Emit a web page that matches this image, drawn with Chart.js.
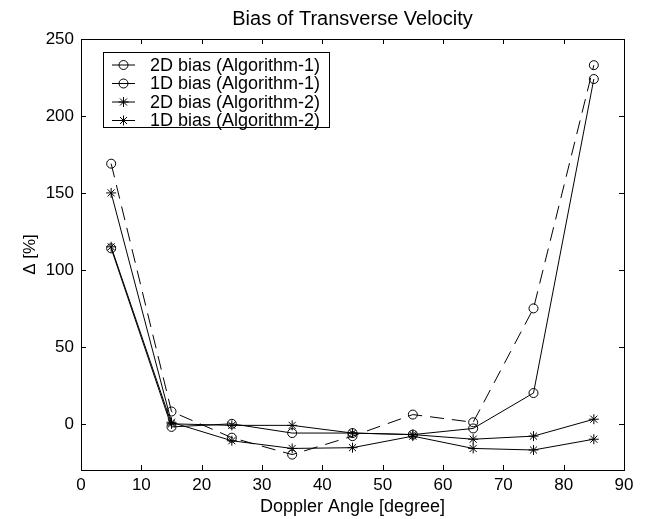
<!DOCTYPE html>
<html>
<head>
<meta charset="utf-8">
<script src="https://cdn.jsdelivr.net/npm/chart.js@4/dist/chart.umd.min.js"></script>
<style>
  html, body { margin: 0; padding: 0; background: #fff; }
  #wrap { width: 647px; height: 519px; }
</style>
</head>
<body>
<div id="wrap"><canvas id="c" width="647" height="519"></canvas></div>
<script>
// ---- data ----
const dopplerAngles = [5, 15, 25, 35, 45, 55, 65, 75, 85];
const bias2DAlg1 = [114, -2, 0, -6, -6, -7, -3, 20, 224];
const bias1DAlg1 = [169, 8, -9, -20, -8, 6, 1, 75, 233];
const bias2DAlg2 = [115, 0, -1, -1, -6, -7, -10, -8, 3];
const bias1DAlg2 = [150, 1, -11, -16, -15.5, -8, -16, -17, -10];
const seriesNames = ['2D bias (Algorithm-1)', '1D bias (Algorithm-1)', '2D bias (Algorithm-2)', '1D bias (Algorithm-2)'];
const xTickValues = [0, 10, 20, 30, 40, 50, 60, 70, 80, 90];
const yTickValues = [0, 50, 100, 150, 200, 250];

const FONT = 'Liberation Sans, Arial, Helvetica, sans-serif';

function toPoints(ys) { return dopplerAngles.map((x, i) => ({ x: x, y: ys[i] })); }

function mkSet(label, ys, style, dashed) {
  return {
    label: label,
    data: toPoints(ys),
    showLine: true,
    borderColor: '#000',
    borderWidth: 1,
    borderDash: dashed ? [14, 8] : [],
    pointStyle: style,
    pointRadius: style === 'circle' ? 4.5 : 5,
    pointBorderColor: '#000',
    pointBackgroundColor: 'rgba(0,0,0,0)',
    pointBorderWidth: 1,
    tension: 0
  };
}

const frameTicks = {
  id: 'frameTicks',
  afterDatasetsDraw(chart) {
    const { ctx, chartArea: a, scales } = chart;
    ctx.save();
    ctx.strokeStyle = '#000';
    ctx.lineWidth = 1;
    ctx.setLineDash([]);
    ctx.strokeRect(Math.round(a.left) + 0.5, Math.round(a.top) + 0.5,
                   Math.round(a.right - a.left), Math.round(a.bottom - a.top));
    const tl = 5;
    ctx.beginPath();
    scales.x.ticks.forEach(t => {
      const px = Math.round(scales.x.getPixelForValue(t.value)) + 0.5;
      ctx.moveTo(px, a.bottom); ctx.lineTo(px, a.bottom - tl);
      ctx.moveTo(px, a.top); ctx.lineTo(px, a.top + tl);
    });
    scales.y.ticks.forEach(t => {
      const py = Math.round(scales.y.getPixelForValue(t.value)) + 0.5;
      ctx.moveTo(a.left, py); ctx.lineTo(a.left + tl, py);
      ctx.moveTo(a.right, py); ctx.lineTo(a.right - tl, py);
    });
    ctx.stroke();
    ctx.restore();
  }
};

const boxLegend = {
  id: 'boxLegend',
  afterDraw(chart) {
    const { ctx } = chart;
    const left = 103, top = 52, w = 226, h = 75;
    const rowY = [65, 83.5, 102, 120.5];
    ctx.save();
    ctx.fillStyle = '#fff';
    ctx.fillRect(left, top, w, h);
    ctx.strokeStyle = '#000';
    ctx.lineWidth = 1;
    ctx.setLineDash([]);
    ctx.strokeRect(left + 0.5, top + 0.5, w, h);
    ctx.font = '18px ' + FONT;
    ctx.textBaseline = 'middle';
    ctx.textAlign = 'left';
    chart.data.datasets.forEach((d, i) => {
      const y = rowY[i];
      ctx.strokeStyle = '#000';
      ctx.beginPath();
      ctx.moveTo(112, y); ctx.lineTo(135, y);
      ctx.stroke();
      ctx.fillStyle = 'rgba(0,0,0,0)';
      Chart.helpers.drawPoint(ctx, { pointStyle: d.pointStyle, radius: d.pointRadius, borderWidth: 1 }, 123.5, y);
      ctx.fillStyle = '#000';
      ctx.fillText(d.label, 150, y + 1);
    });
    ctx.restore();
  }
};

new Chart(document.getElementById('c'), {
  type: 'scatter',
  data: {
    datasets: [
      mkSet(seriesNames[0], bias2DAlg1, 'circle', false),
      mkSet(seriesNames[1], bias1DAlg1, 'circle', true),
      mkSet(seriesNames[2], bias2DAlg2, 'star', false),
      mkSet(seriesNames[3], bias1DAlg2, 'star', false)
    ]
  },
  options: {
    responsive: false,
    animation: false,
    devicePixelRatio: 1,
    layout: { padding: { top: 0, left: 0, right: 23, bottom: 0 } },
    plugins: {
      legend: { display: false },
      tooltip: { enabled: false },
      title: {
        display: true,
        fullSize: false,
        text: 'Bias of Transverse Velocity',
        color: '#000',
        font: { family: FONT, size: 20, weight: 'normal' },
        padding: { top: 7, bottom: 8 }
      }
    },
    scales: {
      x: {
        type: 'linear',
        min: 0, max: 90,
        afterBuildTicks(s) { s.ticks = xTickValues.map(v => ({ value: v })); },
        afterFit(s) { s.height = 49; },
        grid: { display: false, drawTicks: false },
        border: { display: false },
        ticks: { color: '#000', font: { family: FONT, size: 17 }, padding: 5, maxRotation: 0 },
        title: {
          display: true, text: 'Doppler Angle [degree]', color: '#000',
          font: { family: FONT, size: 18 }, padding: { top: 0, bottom: 1 }
        }
      },
      y: {
        type: 'linear',
        min: -30, max: 250,
        afterBuildTicks(s) { s.ticks = yTickValues.map(v => ({ value: v })); },
        afterFit(s) { s.width = 81; },
        grid: { display: false, drawTicks: false },
        border: { display: false },
        ticks: { color: '#000', font: { family: FONT, size: 17 }, padding: 7 },
        title: {
          display: true, text: 'Δ [%]', color: '#000',
          font: { family: FONT, size: 17 }, padding: { top: 20, bottom: 0 }
        }
      }
    }
  },
  plugins: [frameTicks, boxLegend]
});
</script>
</body>
</html>
